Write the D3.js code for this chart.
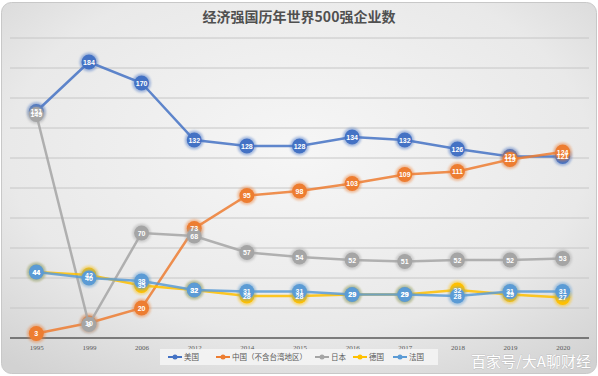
<!DOCTYPE html>
<html>
<head>
<meta charset="utf-8">
<script src="https://cdn.jsdelivr.net/npm/d3@7"></script>
<style>
  html, body { margin: 0; padding: 0; background: #fff; }
  svg { display: block; font-family: "Noto Sans CJK SC", "Noto Sans", sans-serif; }
</style>
</head>
<body>
<div id="chart"></div>
<script>
const width = 598;
const height = 376;

const years = ['1995', '1999', '2006', '2012', '2014', '2015', '2016', '2017', '2018', '2019', '2020'];
const usa = [151, 184, 170, 132, 128, 128, 134, 132, 126, 121, 121];
const china = [3, 10, 20, 73, 95, 98, 103, 109, 111, 119, 124];
const japan = [149, 9, 70, 68, 57, 54, 52, 51, 52, 52, 53];
const germany = [44, 42, 35, 32, 28, 28, 29, 29, 32, 29, 27];
const france = [44, 40, 38, 32, 31, 31, 29, 29, 28, 31, 31];
const yTicks = [0, 20, 40, 60, 80, 100, 120, 140, 160, 180, 200];

const series = [
    { name: '美国', values: usa, color: '#4472c4' },
    { name: '中国（不含台湾地区）', values: china, color: '#ed7d31' },
    { name: '日本', values: japan, color: '#a5a5a5' },
    { name: '德国', values: germany, color: '#ffc000' },
    { name: '法国', values: france, color: '#5b9bd5' }
];

const svg = d3.select('#chart').append('svg')
    .attr('width', width)
    .attr('height', height);

// background with soft vignette
const defs = svg.append('defs');
const bg = defs.append('radialGradient').attr('id', 'bg')
    .attr('cx', '50%').attr('cy', '40%').attr('r', '75%');
bg.append('stop').attr('offset', '0%').attr('stop-color', '#f6f6f6');
bg.append('stop').attr('offset', '65%').attr('stop-color', '#e9e9e9');
bg.append('stop').attr('offset', '100%').attr('stop-color', '#d2d2d2');
const glow = defs.append('filter').attr('id', 'glow')
    .attr('x', '-50%').attr('y', '-50%').attr('width', '200%').attr('height', '200%');
glow.append('feGaussianBlur').attr('stdDeviation', 1.2);

svg.append('rect')
    .attr('x', 1.5).attr('y', 2.5)
    .attr('width', width - 3).attr('height', height - 5)
    .attr('rx', 10)
    .attr('fill', 'url(#bg)')
    .attr('stroke', '#c8c8c8');

const x = d3.scalePoint()
    .domain(years)
    .range([10, 589])
    .padding(0.5);

const y = d3.scaleLinear()
    .domain([0, 200])
    .range([338, 38]);

// GRIDLINES
svg.append('g')
    .selectAll('line')
    .data(yTicks.slice(1))
    .join('line')
    .attr('x1', 10).attr('x2', 589)
    .attr('y1', d => y(d)).attr('y2', d => y(d))
    .attr('stroke', '#c6c6c6')
    .attr('stroke-width', 1);

// X AXIS
const xAxis = svg.append('g')
    .attr('transform', `translate(0,${y(0)})`)
    .call(d3.axisBottom(x).tickSize(0).tickPadding(7));
xAxis.select('.domain')
    .attr('d', 'M10,0H589')
    .attr('stroke', '#595959')
    .attr('stroke-width', 1.5);
xAxis.selectAll('text')
    .attr('fill', '#595959')
    .style('font-size', '7px')
    .style('font-family', '"Liberation Serif", serif');

// TITLE
svg.append('text')
    .attr('x', 299).attr('y', 22)
    .attr('text-anchor', 'middle')
    .attr('fill', '#505050')
    .style('font-size', '14px')
    .style('font-weight', 'bold')
    .text('经济强国历年世界500强企业数');

const line = d3.line()
    .x((d, i) => x(years[i]))
    .y(d => y(d));

const plot = svg.append('g');
series.forEach(s => {
    const g = plot.append('g');
    g.append('path')
        .datum(s.values)
        .attr('fill', 'none')
        .attr('stroke', s.color)
        .attr('stroke-width', 2.5)
        .attr('opacity', 0.85)
        .attr('d', line);
    g.selectAll('circle.halo')
        .data(s.values)
        .join('circle')
        .attr('class', 'halo')
        .attr('cx', (d, i) => x(years[i]))
        .attr('cy', d => y(d))
        .attr('r', 9.5)
        .attr('fill', s.color)
        .attr('opacity', 0.45)
        .attr('filter', 'url(#glow)');
    g.selectAll('circle.dot')
        .data(s.values)
        .join('circle')
        .attr('class', 'dot')
        .attr('cx', (d, i) => x(years[i]))
        .attr('cy', d => y(d))
        .attr('r', 7.5)
        .attr('fill', s.color);
});

// DATA LABELS on top of all markers
series.forEach(s => {
    plot.append('g')
        .selectAll('text')
        .data(s.values)
        .join('text')
        .attr('x', (d, i) => x(years[i]))
        .attr('y', d => y(d) + 2.5)
        .attr('text-anchor', 'middle')
        .attr('fill', '#fff')
        .style('font-size', '7px')
        .style('font-weight', 'bold')
        .style('font-family', '"Liberation Sans", sans-serif')
        .text(d => d);
});

// LEGEND
const legend = svg.append('g').attr('transform', 'translate(160,349)');
legend.append('rect')
    .attr('width', 278).attr('height', 16)
    .attr('fill', '#f4f4f4')
    .attr('opacity', 0.9);
const legendX = [8, 56, 155, 193, 233];
series.forEach((s, i) => {
    const item = legend.append('g').attr('transform', `translate(${legendX[i]},8)`);
    item.append('line')
        .attr('x1', 0).attr('x2', 14)
        .attr('stroke', s.color).attr('stroke-width', 2);
    item.append('circle')
        .attr('cx', 7).attr('r', 2.5)
        .attr('fill', s.color);
    item.append('text')
        .attr('x', 16).attr('y', 2.5)
        .attr('fill', '#595959')
        .style('font-size', '7.5px')
        .text(s.name);
});

// WATERMARK
svg.append('text')
    .attr('x', 591).attr('y', 367)
    .attr('text-anchor', 'end')
    .attr('fill', '#fff')
    .style('font-size', '15px')
    .style('paint-order', 'stroke')
    .attr('stroke', 'rgba(0,0,0,0.12)')
    .attr('stroke-width', 1)
    .text('百家号/大A聊财经');
</script>
</body>
</html>
